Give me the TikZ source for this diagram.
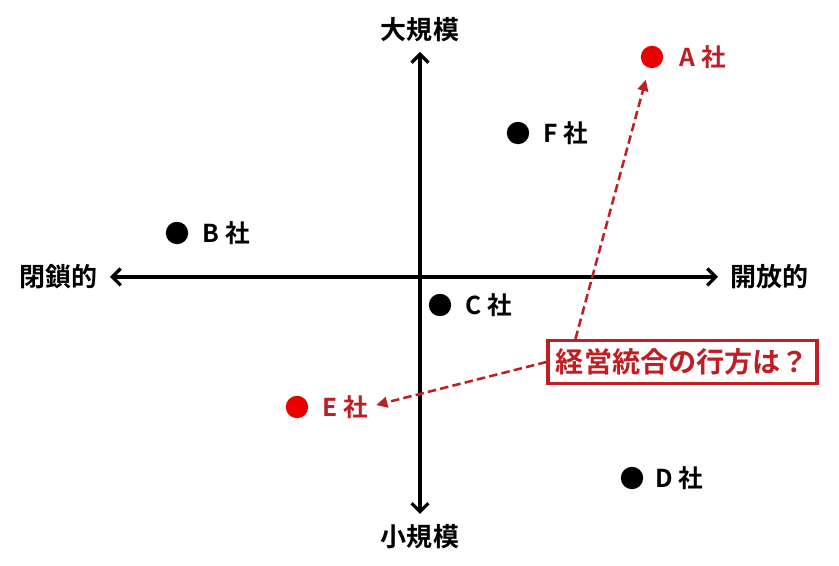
\documentclass[tikz,border=0pt]{standalone}
\usepackage{fontspec}
\setmainfont{Noto Sans CJK JP}[BoldFont={Noto Sans CJK JP Bold}]
\usetikzlibrary{arrows.meta,positioning}
\definecolor{darkred}{RGB}{192,30,36}
\definecolor{dotred}{RGB}{235,0,0}

\begin{document}
\begin{tikzpicture}[
  axis/.style={line width=2.5pt,{Straight Barb[length=6pt,width=12pt,line width=2.3pt]}-{Straight Barb[length=6pt,width=12pt,line width=2.3pt]}},
  axislabel/.style={inner sep=0pt,font=\fontsize{18.5}{18.5}\selectfont\bfseries},
  firm/.style={circle,fill=black,minimum size=0.56cm,inner sep=0pt},
  firmname/.style={inner sep=0pt,font=\fontsize{17.5}{17.5}\selectfont\bfseries},
  guess/.style={darkred,line width=1.8pt,dash pattern=on 6pt off 3pt,-{Triangle[length=8pt,width=7.5pt]}}
]
  \useasboundingbox (0,0) rectangle (20.975,14.15);

  % Axis ends
  \coordinate (closedend) at (2.75,7.225);
  \coordinate (openend) at (17.95,7.225);
  \coordinate (largeend) at (10.5,12.85);
  \coordinate (smallend) at (10.5,1.3);

  % The two axes
  \draw[axis] (closedend) -- (openend);
  \draw[axis] (smallend) -- (largeend);

  % Axis labels
  \node[axislabel,left=0.3cm of closedend] (closed) {閉鎖的};
  \node[axislabel,right=0.3cm of openend] (open) {開放的};
  \node[axislabel,above=0.25cm of largeend] (large) {大規模};
  \node[axislabel,below=0.25cm of smallend] (small) {小規模};

  % Companies
  \node[firm,fill=dotred] (A) at (16.3,12.725) {};
  \node[firm] (F) at (12.95,10.825) {};
  \node[firm] (B) at (4.425,8.325) {};
  \node[firm] (C) at (11.0,6.525) {};
  \node[firm,fill=dotred] (E) at (7.425,3.975) {};
  \node[firm] (D) at (15.8,2.2) {};

  \node[firmname,text=darkred,right=0.4cm of A] (Aname) {A 社};
  \node[firmname,right=0.35cm of F] (Fname) {F 社};
  \node[firmname,right=0.35cm of B] (Bname) {B 社};
  \node[firmname,right=0.35cm of C] (Cname) {C 社};
  \node[firmname,text=darkred,right=0.35cm of E] (Ename) {E 社};
  \node[firmname,right=0.3cm of D] (Dname) {D 社};

  % Question box
  \node[draw=darkred,line width=2.2pt,text=darkred,minimum width=6.725cm,minimum height=1.075cm,
        font=\fontsize{20}{20}\selectfont\bfseries] (merger) at (17.0625,5.1) {経営統合の行方は？};

  % Dashed arrows to A and E
  \draw[guess,shorten >=0.3cm] ([xshift=0.725cm]merger.north west) -- (A);
  \draw[guess,shorten >=0.2cm] (merger.west) -- (Ename.east);
\end{tikzpicture}
\end{document}
